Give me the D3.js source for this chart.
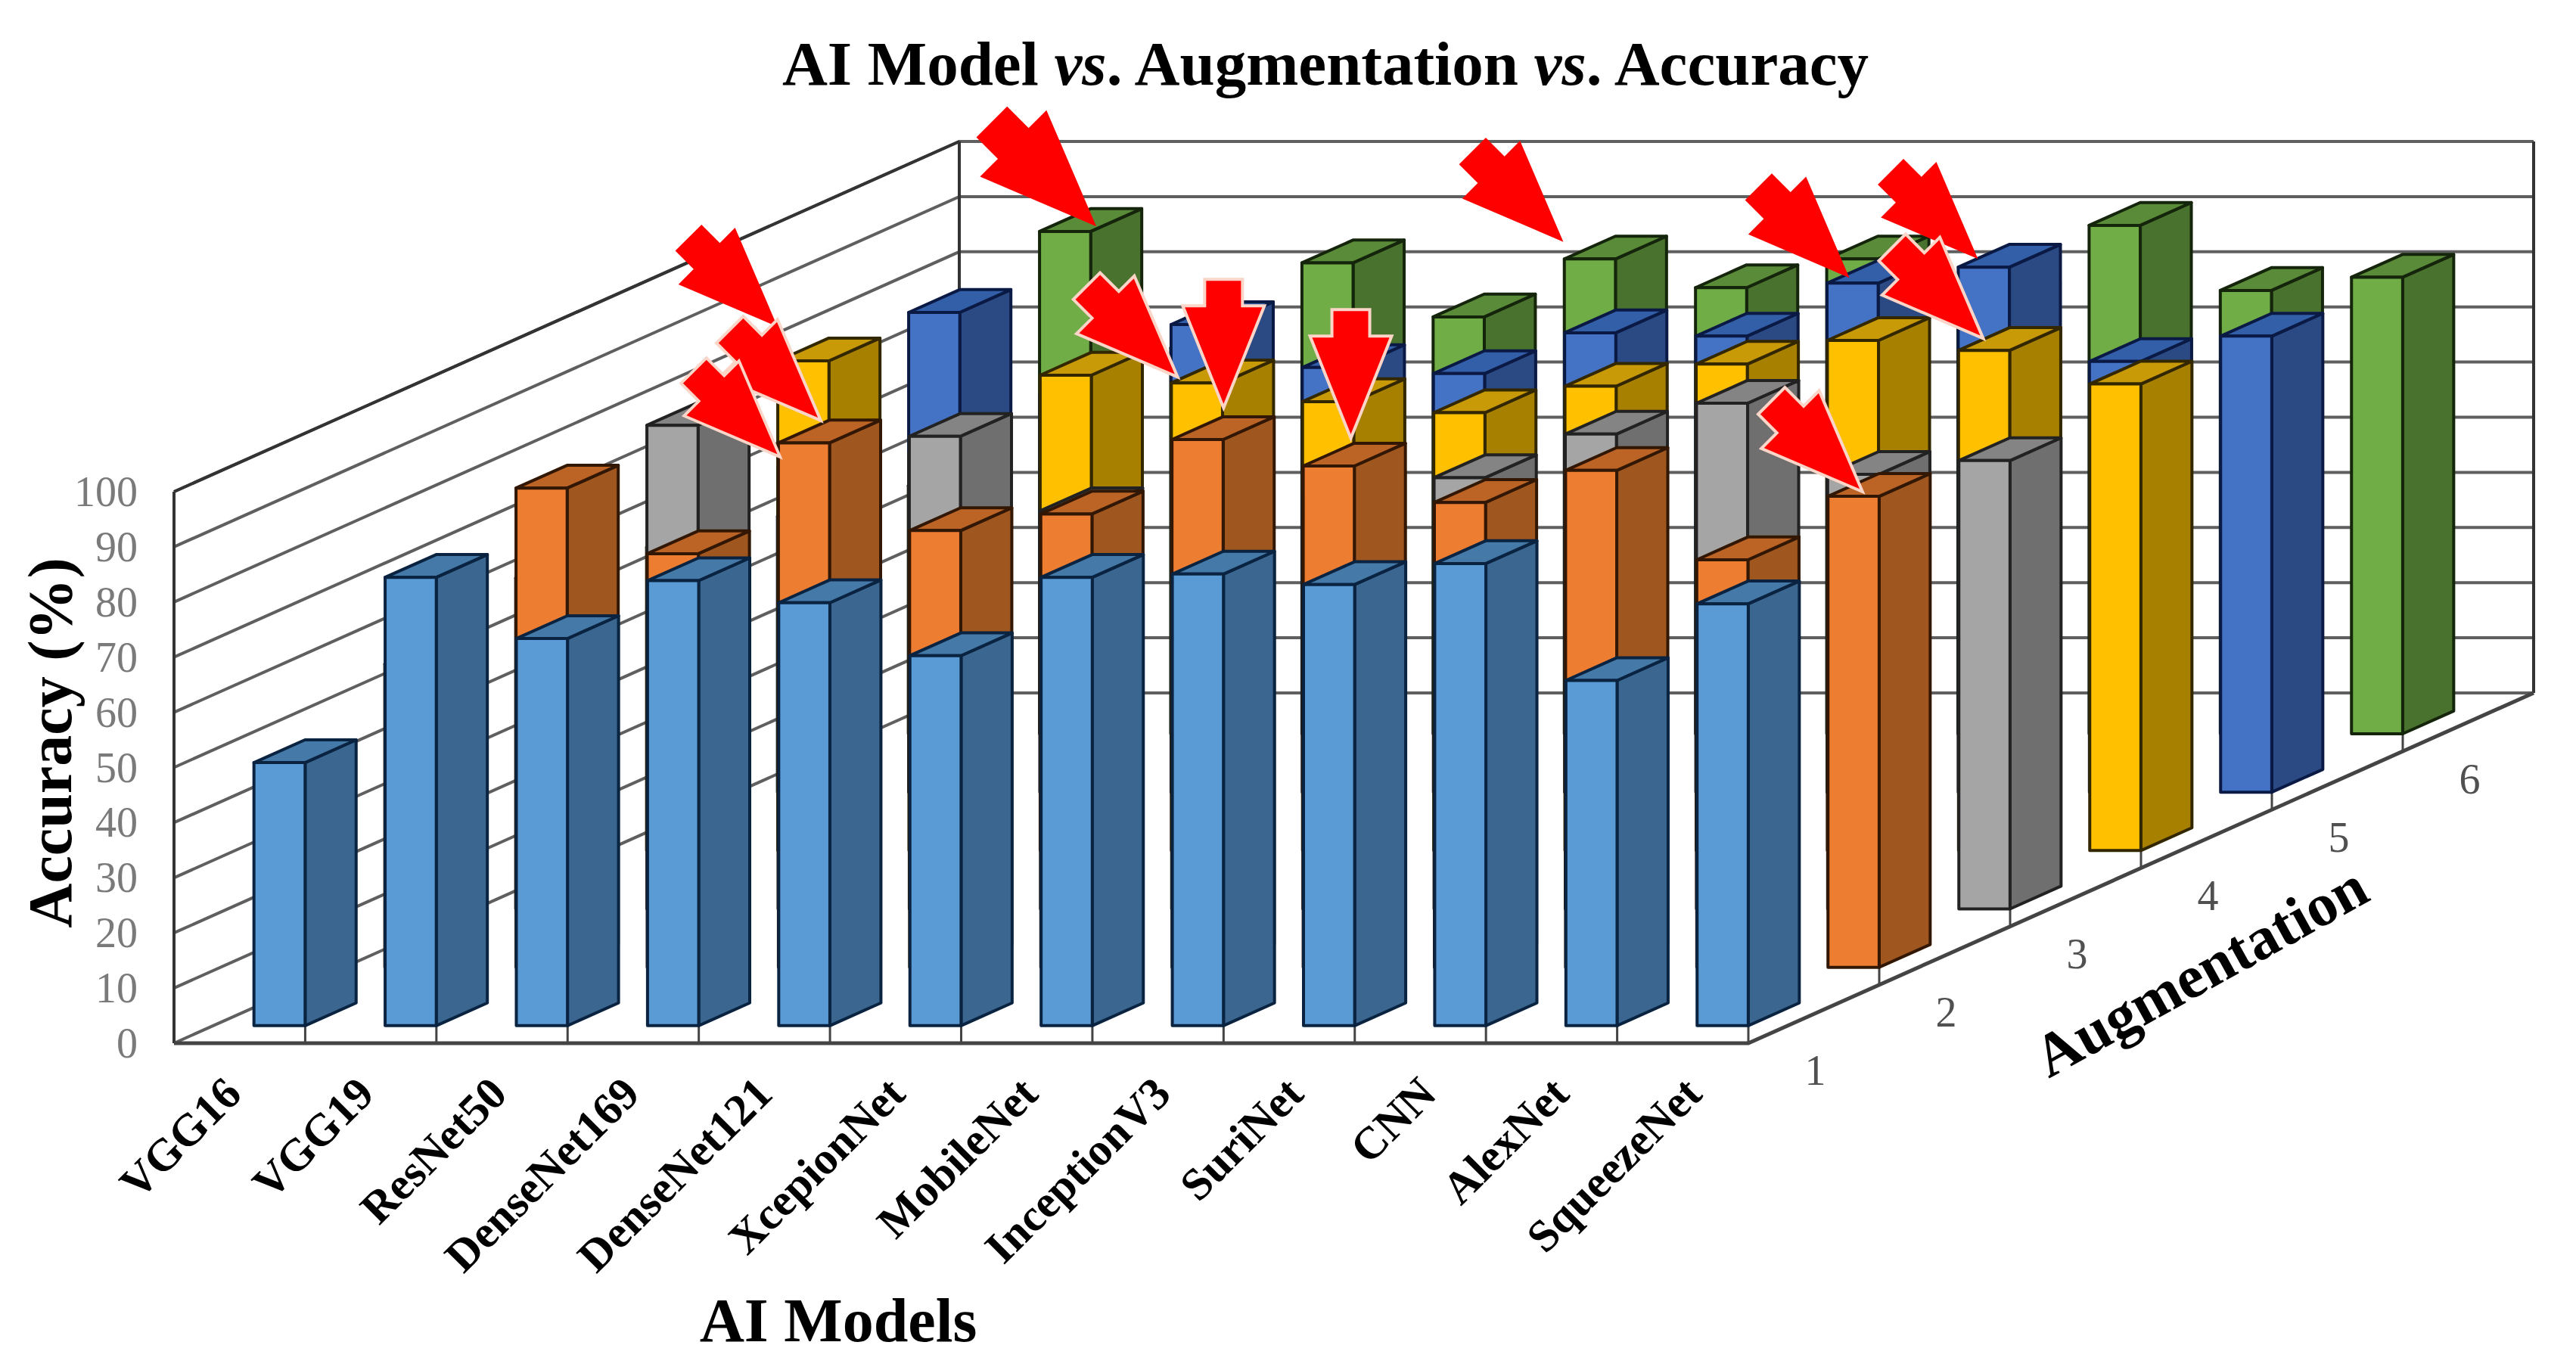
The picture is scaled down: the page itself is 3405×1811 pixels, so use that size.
<!DOCTYPE html>
<html>
<head>
<meta charset="utf-8">
<style>
body { margin: 0; background: #fff; }
text { font-family: "Liberation Serif", serif; }
</style>
<script src="https://cdn.jsdelivr.net/npm/d3@7"></script>
</head>
<body>
<svg id="chart" width="3405" height="1811"></svg>
<script>
var models = ["VGG16", "VGG19", "ResNet50", "DenseNet169", "DenseNet121", "XcepionNet",
    "MobileNet", "InceptionV3", "SuriNet", "CNN", "AlexNet", "SqueezeNet"];
var augmentations = ["1", "2", "3", "4", "5", "6"];
var accuracyTicks = [0, 10, 20, 30, 40, 50, 60, 70, 80, 90, 100];

// accuracy per model, one list per augmentation
var aug1 = [47.7, 81.3, 70.2, 80.7, 76.7, 67.1, 81.3, 81.9, 80, 83.8, 62.6, 76.5];
var aug2 = [55, 86.9, 75, 95.1, 79.2, 82.2, 95.7, 90.9, 84.3, 90.1, 73.9, 85.4];
var aug3 = [60, 87.7, 80, 85.7, 72.2, 80, 75, 78.2, 86.1, 91.7, 78.8, 81.3];
var aug4 = [55, 88.8, 72, 86.2, 84.8, 81.4, 79.4, 84.2, 88.2, 92.5, 90.7, 84.6];
var aug5 = [50, 87, 72, 84.8, 77, 75.9, 83.3, 82.7, 92.3, 95.2, 78.1, 82.7];
var aug6 = [45, 91.1, 70, 85.4, 75.6, 86.1, 80.9, 86.1, 78, 92.2, 80.4, 82.8];
var augValues = [aug1, aug2, aug3, aug4, aug5, aug6];

// front, side, top colours per augmentation
var frontColors = ["#5b9bd5", "#ed7d31", "#a5a5a5", "#ffc000", "#4472c4", "#70ad47"];
var sideColors = ["#3a668f", "#a0561f", "#6f6f6f", "#a88000", "#2b4a83", "#4a722f"];
var topColors = ["#4479a8", "#bc6326", "#848484", "#c99a08", "#335fa8", "#598b39"];
var edgeColors = ["#0a2340", "#321804", "#222222", "#332700", "#0a1a45", "#15250b"];

// red arrows: tip in chart units (model position, accuracy on the front plane)
var arrowTipModel = [4.6, 4.93, 4.62, 7.03, 7.65, 8.0, 8.97, 10.59, 12.77, 13.75, 13.79, 12.87];
var arrowTipAccuracy = [129.9, 112.9, 106.3, 148.1, 120.8, 115.2, 109.7, 145.3, 138.8, 142.2, 127.8, 100];
var arrowAngle = [45, 45, 45, 45, 45, 90, 90, 45, 45, 45, 45, 45];
var arrowSize = [0.98, 1, 0.95, 1.15, 1, 1, 1, 1, 1, 0.96, 1, 1];
var arrowOutlined = [false, true, true, false, true, true, true, false, false, false, true, true];

var svg = d3.select("#chart");

var x = d3.scaleLinear().domain([0, models.length]).range([230, 2311]);
var depthX = d3.scaleLinear().domain([0, augmentations.length]).range([0, 1038]);
var depthY = d3.scaleLinear().domain([0, augmentations.length]).range([1379, 916]);
var rise = d3.scaleLinear().domain([0, 100]).range([0, 729]);

function project(u, w, v) {
    return [x(u) + depthX(w), depthY(w) - rise(v)];
}
function pts(list) {
    return list.map(function(p) { return p.join(","); }).join(" ");
}

var wall = svg.append("g");
// side wall and back wall grid
accuracyTicks.forEach(function(t) {
    var a = project(0, 0, t), b = project(0, 6, t), c = project(12, 6, t);
    wall.append("polyline").attr("points", pts([a, b, c]))
        .attr("fill", "none").attr("stroke", "#5f5f5f").attr("stroke-width", 4);
});
// frame
wall.append("line").attr("x1", x(0)).attr("x2", x(0))
    .attr("y1", project(0, 0, 0)[1]).attr("y2", project(0, 0, 100)[1])
    .attr("stroke", "#333").attr("stroke-width", 4);
wall.append("polyline").attr("points", pts([project(0, 0, 100), project(0, 6, 100)]))
    .attr("fill", "none").attr("stroke", "#333").attr("stroke-width", 4);
wall.append("line").attr("x1", project(0, 6, 0)[0]).attr("x2", project(0, 6, 0)[0])
    .attr("y1", project(0, 6, 0)[1]).attr("y2", project(0, 6, 100)[1])
    .attr("stroke", "#333").attr("stroke-width", 4);
wall.append("line").attr("x1", project(12, 6, 0)[0]).attr("x2", project(12, 6, 0)[0])
    .attr("y1", project(12, 6, 0)[1]).attr("y2", project(12, 6, 100)[1])
    .attr("stroke", "#333").attr("stroke-width", 4);
// floor edges
wall.append("polyline").attr("points", pts([project(0, 0, 0), project(12, 0, 0), project(12, 6, 0)]))
    .attr("fill", "none").attr("stroke", "#444").attr("stroke-width", 5);
// ticks on the floor edges
d3.range(1, 13).forEach(function(i) {
    var p = project(i, 0, 0);
    wall.append("line").attr("x1", p[0]).attr("x2", p[0]).attr("y1", p[1]).attr("y2", p[1] - 24)
        .attr("stroke", "#444").attr("stroke-width", 3);
});
d3.range(1, 6).forEach(function(j) {
    var p = project(12, j, 0);
    wall.append("line").attr("x1", p[0]).attr("x2", p[0]).attr("y1", p[1]).attr("y2", p[1] - 26)
        .attr("stroke", "#444").attr("stroke-width", 3);
});

// bars, back row first
var lo = 0.31, hi = 0.70, wlo = 0.3, whi = 0.69;
var rows = svg.selectAll("g.row").data(d3.range(5, -1, -1)).join("g").attr("class", "row");
rows.each(function(j) {
    var bars = d3.select(this).selectAll("g.bar").data(augValues[j]).join("g").attr("class", "bar");
    function face(color, fn) {
        bars.append("polygon")
            .attr("points", function(v, i) { return pts(fn(i, v)); })
            .attr("fill", color)
            .attr("stroke", edgeColors[j])
            .attr("stroke-width", 4)
            .attr("stroke-linejoin", "round");
    }
    face(sideColors[j], function(i, v) {
        return [project(i + hi, j + wlo, 0), project(i + hi, j + whi, 0),
            project(i + hi, j + whi, v), project(i + hi, j + wlo, v)];
    });
    face(topColors[j], function(i, v) {
        return [project(i + lo, j + wlo, v), project(i + hi, j + wlo, v),
            project(i + hi, j + whi, v), project(i + lo, j + whi, v)];
    });
    face(frontColors[j], function(i, v) {
        return [project(i + lo, j + wlo, 0), project(i + hi, j + wlo, 0),
            project(i + hi, j + wlo, v), project(i + lo, j + wlo, v)];
    });
});

// accuracy axis labels
svg.selectAll("text.acc").data(accuracyTicks).join("text").attr("class", "acc")
    .attr("x", 182)
    .attr("y", function(d) { return project(0, 0, d)[1]; })
    .attr("dy", "0.34em")
    .attr("text-anchor", "end")
    .attr("font-size", 56)
    .attr("fill", "#7a7a7a")
    .text(function(d) { return d; });

// model labels
svg.selectAll("text.model").data(models).join("text").attr("class", "model")
    .attr("transform", function(d, i) {
        return "translate(" + (x(i * 1.012) + 92) + ",1449) rotate(-45)";
    })
    .attr("text-anchor", "end")
    .attr("font-size", 60)
    .attr("font-weight", "bold")
    .attr("fill", "#000")
    .text(function(d) { return d; });

// augmentation labels
svg.selectAll("text.aug").data(augmentations).join("text").attr("class", "aug")
    .attr("x", function(d, j) { return project(12, j + 0.5, 0)[0] + 2; })
    .attr("y", function(d, j) { return project(12, j + 0.5, 0)[1] + 75; })
    .attr("dy", "0.34em")
    .attr("text-anchor", "middle")
    .attr("font-size", 56)
    .attr("fill", "#505050")
    .text(function(d) { return d; });

// titles
var title = svg.append("text").attr("x", 1752).attr("y", 112).attr("text-anchor", "middle")
    .attr("font-size", 83).attr("font-weight", "bold").attr("fill", "#000");
title.append("tspan").text("AI Model ");
title.append("tspan").attr("font-style", "italic").text("vs");
title.append("tspan").text(". Augmentation ");
title.append("tspan").attr("font-style", "italic").text("vs");
title.append("tspan").text(". Accuracy");

svg.append("text").attr("transform", "translate(94,982) rotate(-90)").attr("text-anchor", "middle")
    .attr("font-size", 82).attr("font-weight", "bold").text("Accuracy (%)");
svg.append("text").attr("x", 1108).attr("y", 1773).attr("text-anchor", "middle")
    .attr("font-size", 82).attr("font-weight", "bold").text("AI Models");
svg.append("text").attr("transform", "translate(2708,1426) rotate(-29)")
    .attr("font-size", 80).attr("font-weight", "bold").text("Augmentation");

// red arrows
var arrowShape = [[0, 0], [-135, -54], [-135, -25], [-170, -25], [-170, 25], [-135, 25], [-135, 54]];
svg.selectAll("polygon.arrow").data(arrowTipModel).join("polygon").attr("class", "arrow")
    .attr("points", pts(arrowShape))
    .attr("transform", function(d, i) {
        var p = project(d, 0, arrowTipAccuracy[i]);
        return "translate(" + p[0] + "," + p[1] + ") rotate(" + arrowAngle[i] + ") scale(" + arrowSize[i] + ")";
    })
    .attr("fill", "#fe0000")
    .attr("stroke", function(d, i) { return arrowOutlined[i] ? "#fbd5c8" : "none"; })
    .attr("stroke-width", 4)
    .attr("stroke-linejoin", "miter");
</script>
</body>
</html>
